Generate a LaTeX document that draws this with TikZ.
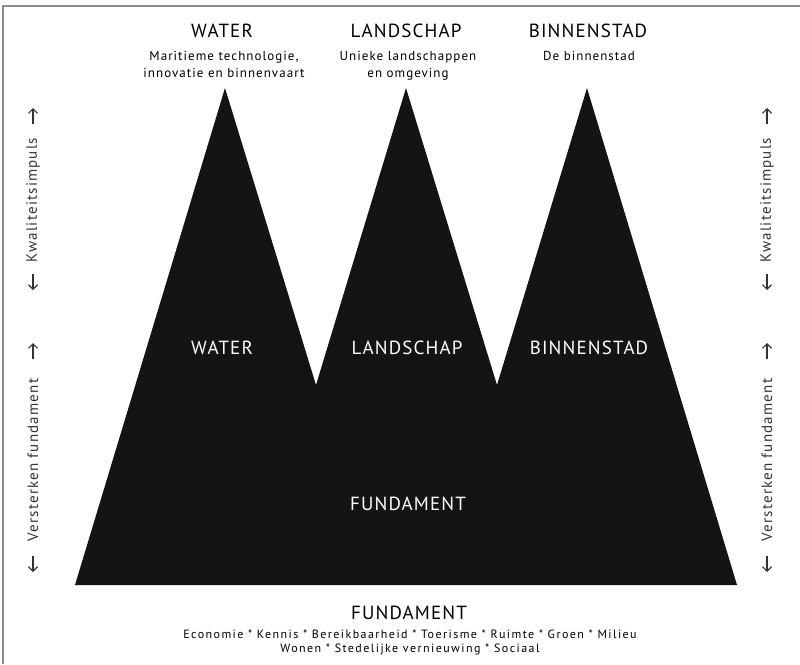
\documentclass[tikz,border=0pt]{standalone}
\usepackage{fontspec}
\usetikzlibrary{arrows.meta}
\setmainfont{PT Sans}
\newfontfamily\capsfont[LetterSpace=6]{PT Sans}
\newfontfamily\subfont[LetterSpace=8]{PT Sans}
\newfontfamily\pillarfont[LetterSpace=12]{PT Sans}
\definecolor{mountain}{HTML}{141414}
\definecolor{framegray}{HTML}{8C8C8C}
\definecolor{sidegray}{HTML}{333333}
\tikzset{
  title/.style = {font = \capsfont\fontsize{19}{19}\selectfont, anchor = base},
  subtitle/.style = {font = \subfont\fontsize{13}{17}\selectfont, align = center, anchor = base},
  pillars/.style = {font = \pillarfont\fontsize{12}{13.5}\selectfont, align = center, anchor = base},
  peaklabel/.style = {title, text = white},
  sidelabel/.style = {font = \subfont\fontsize{15}{15}\selectfont, text = sidegray, rotate = 90, anchor = center},
  sidearrow/.style = {draw = sidegray, line width = 1.1, -{Straight Barb[length = 4.5pt, width = 9pt]}}
}
\begin{document}
\begin{tikzpicture}[x = 1pt, y = -1pt]
\useasboundingbox (0,0) rectangle (800,664);
\draw [color = framegray, line width = 2] (3,664) -- (3,6) -- (800,6);
\fill [color = mountain] (75,585) -- (225,88) -- (316,385) -- (406,88) -- (497,385) -- (587,88) -- (737,585) -- cycle;
\node [title] (water) at (222,37) {WATER};
\node [title] (landschap) at (406,37) {LANDSCHAP};
\node [title] (binnenstad) at (588,37) {BINNENSTAD};
\node [subtitle] (watersub) at (224,77) {Maritieme technologie,\\innovatie en binnenvaart};
\node [subtitle] (landschapsub) at (408,77) {Unieke landschappen\\en omgeving};
\node [subtitle] (binnenstadsub) at (589,60) {De binnenstad};
\foreach \x/\name in {222/WATER, 407/LANDSCHAP, 589/BINNENSTAD}
  \node [peaklabel] (peak-\name) at (\x,354) {\name};
\node [peaklabel] (fundamentin) at (408,510) {FUNDAMENT};
\node [title] (fundament) at (409,619) {FUNDAMENT};
\node [pillars] (pillarlist) at (410,652) {Economie * Kennis * Bereikbaarheid * Toerisme * Ruimte * Groen * Milieu\\Wonen * Stedelijke vernieuwing * Sociaal};
\foreach \x/\side in {33/left, 767/right} {
  \node [sidelabel] (impuls-\side) at (\x,200) {Kwaliteitsimpuls};
  \draw [sidearrow] (\x,124) -- (\x,108);
  \draw [sidearrow] (\x,274) -- (\x,290);
  \node [sidelabel] (fundament-\side) at (\x,460) {Versterken fundament};
  \draw [sidearrow] (\x,359) -- (\x,343);
  \draw [sidearrow] (\x,556) -- (\x,572);
}
\end{tikzpicture}
\end{document}
